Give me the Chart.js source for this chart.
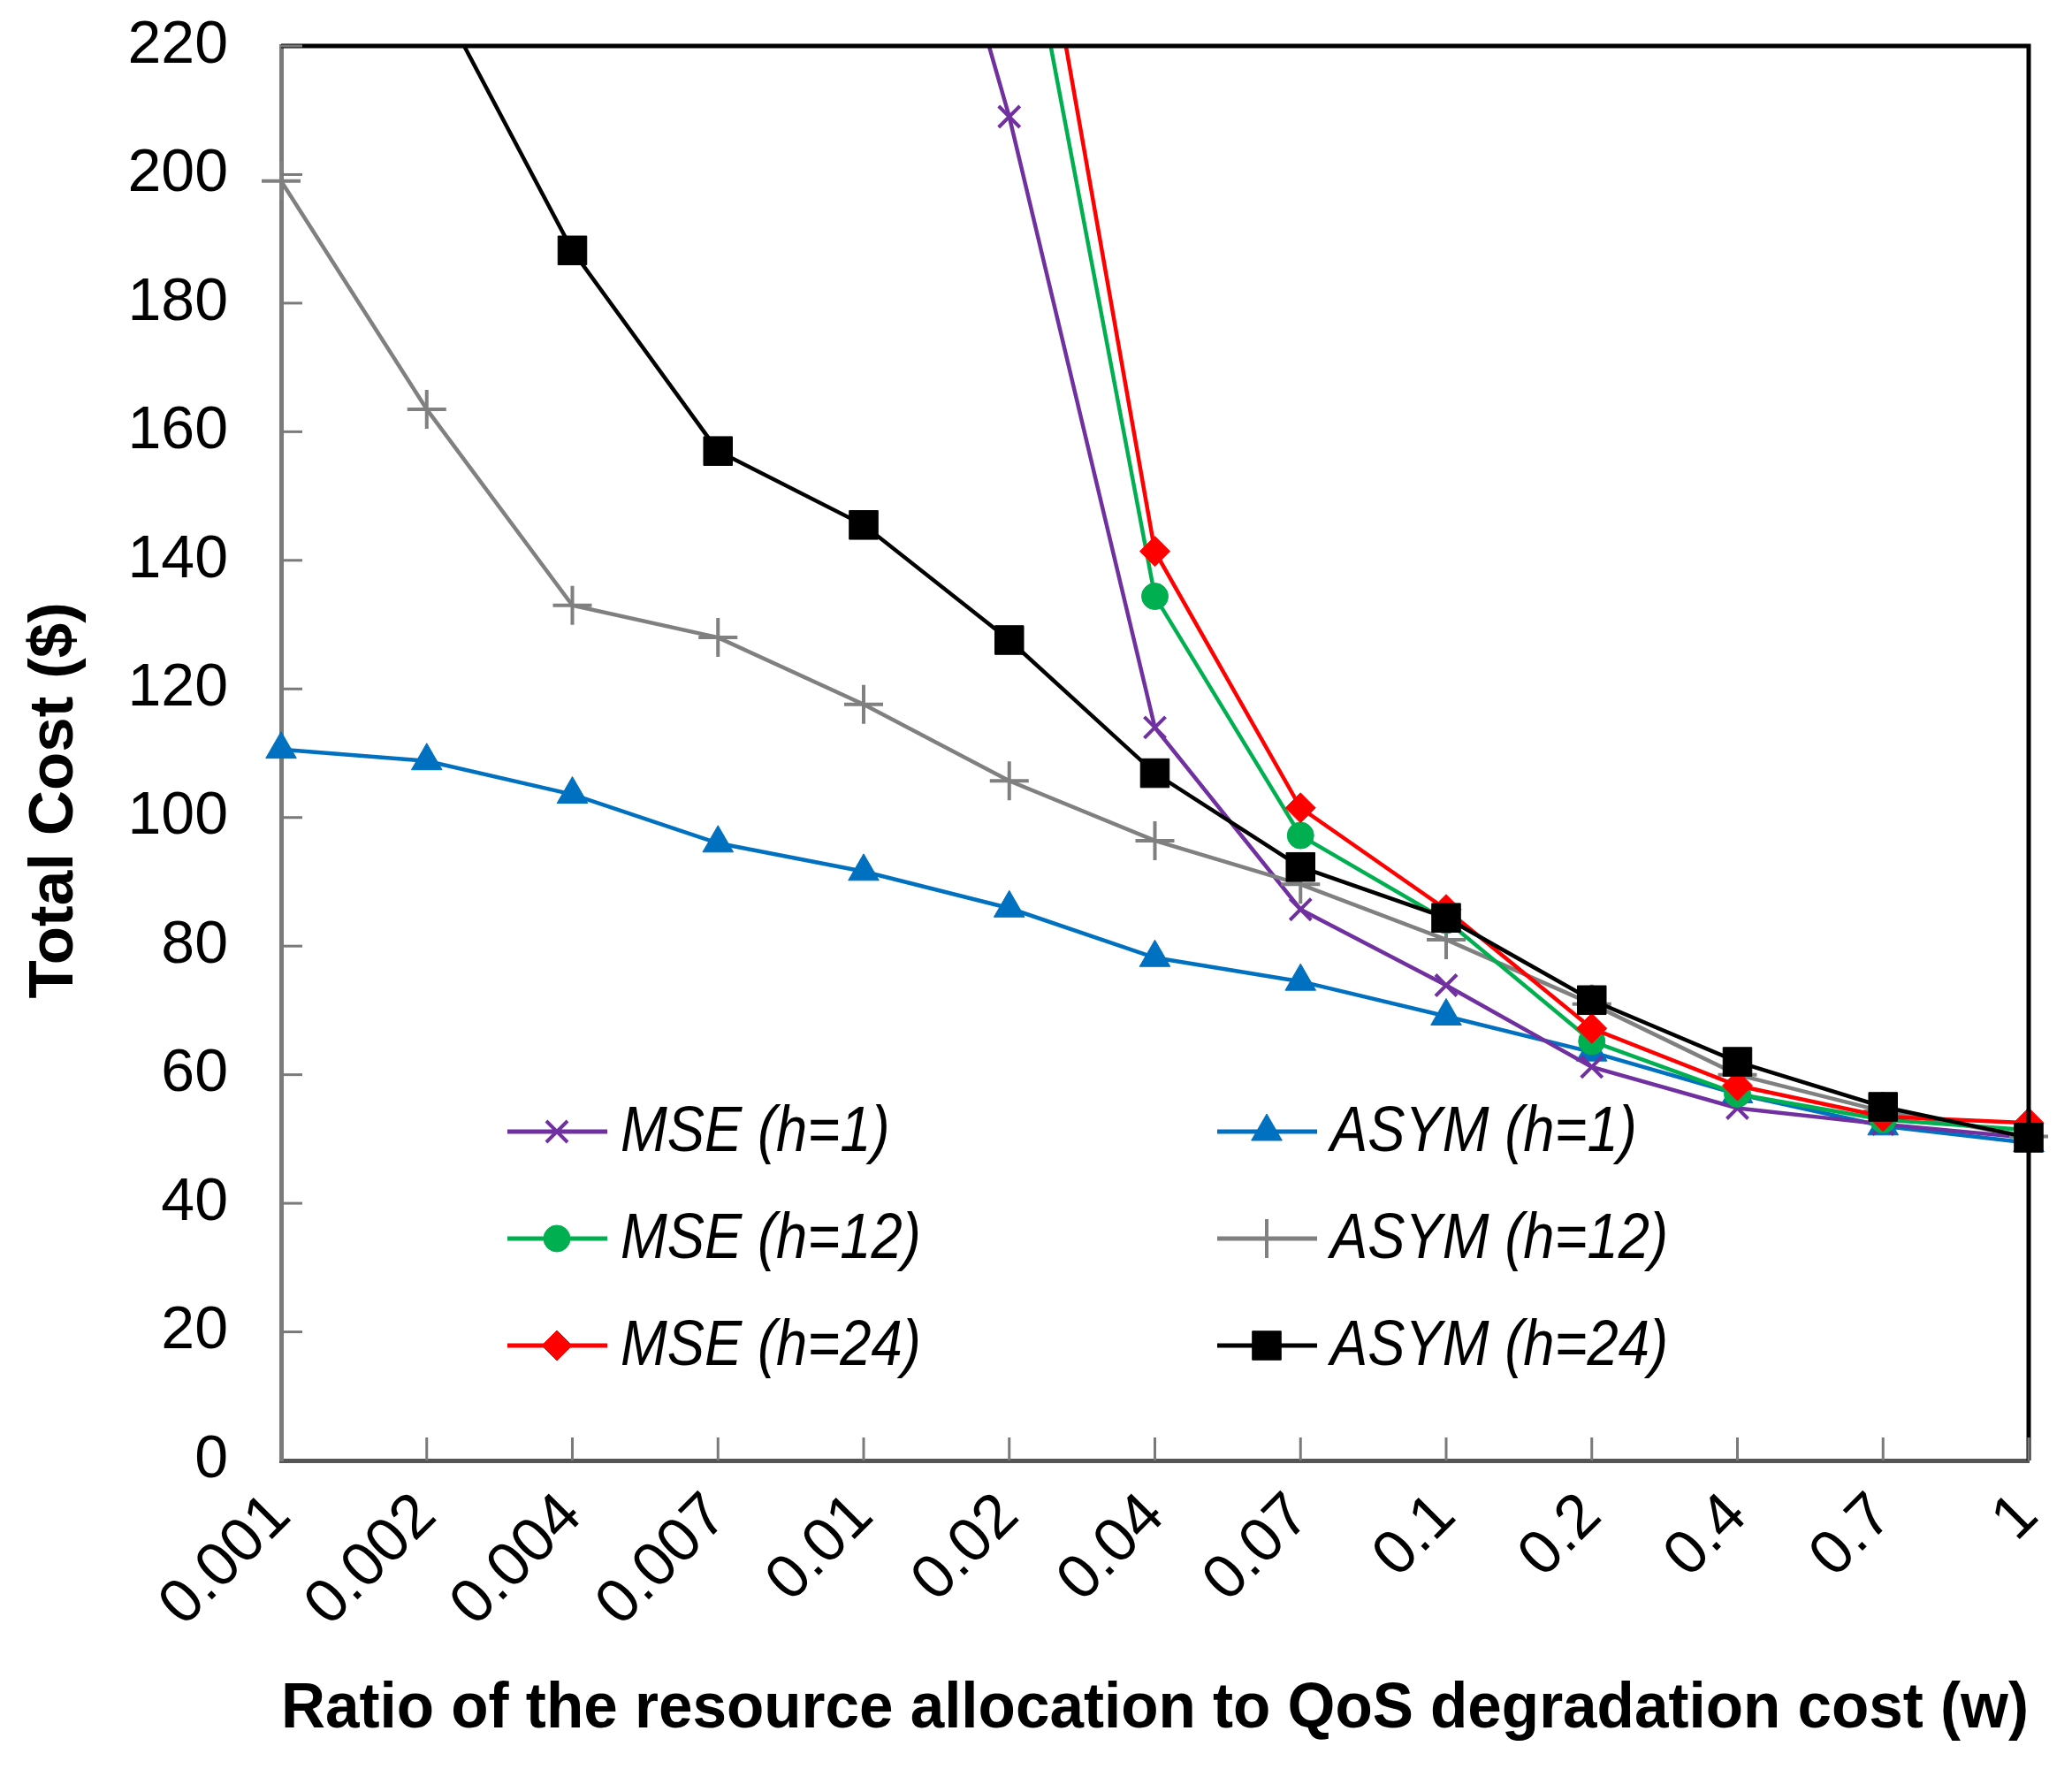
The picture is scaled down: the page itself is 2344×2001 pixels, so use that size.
<!DOCTYPE html>
<html>
<head>
<meta charset="utf-8">
<title>Total cost vs w</title>
<script src="https://cdn.jsdelivr.net/npm/chart.js@4.4.1/dist/chart.umd.min.js"></script>
<style>
  html, body { margin: 0; padding: 0; background: #fff; }
  canvas { display: block; }
</style>
</head>
<body>
<canvas id="costChart" width="2344" height="2001"></canvas>
<script>
// ratio w (x categories)
const wLabels = ['0.001', '0.002', '0.004', '0.007', '0.01', '0.02', '0.04', '0.07', '0.1', '0.2', '0.4', '0.7', '1'];

// total cost ($); null = off the top of the chart, nothing visible
const mseH1 = [null, null, null, null, 288, 209, 114, 85.7, 73.9, 61.2, 54.8, 52.3, 50.2];
const mseH12 = [null, null, null, null, null, 254, 134.4, 97.2, 84, 65.2, 57, 53, 51.4];
const mseH24 = [null, null, null, null, null, 270, 141.4, 101.5, 85.7, 67.2, 58.3, 53.5, 52.5];
const asymH1 = [110.6, 108.8, 103.6, 96, 91.6, 85.9, 78.2, 74.5, 69.1, 63.5, 57, 52, 49.4];
const asymH12 = [199, 163.5, 133, 128, 117.6, 105.7, 96.4, 89.6, 81, 71, 60, 54.3, 50.4];
const asymH24 = [null, 231, 188.2, 157, 145.5, 127.6, 106.9, 92.3, 84.4, 71.6, 62, 55, 50.2];

const FONT = "'Liberation Sans', Arial, Helvetica, sans-serif";

function series(label, data, color, style, radius, order, width) {
    return {
        label,
        data,
        borderColor: color,
        backgroundColor: color,
        borderWidth: 4.5,
        pointStyle: style,
        pointRadius: radius,
        pointBorderWidth: width || 1,
        pointBackgroundColor: color,
        pointBorderColor: color,
        order,
        tension: 0,
        spanGaps: false,
        clip: { left: 40, right: 40, top: 0, bottom: 40 }
    };
}

// black frame on top/right plus inward tick marks
const framePlugin = {
    id: 'frame',
    afterDraw(chart) {
        const { ctx, chartArea: a, scales } = chart;
        ctx.save();
        ctx.strokeStyle = '#000';
        ctx.lineWidth = 5;
        ctx.beginPath();
        ctx.moveTo(a.left, a.top);
        ctx.lineTo(a.right, a.top);
        ctx.lineTo(a.right, a.bottom);
        ctx.stroke();

        ctx.strokeStyle = '#7a7a7a';
        ctx.lineWidth = 3;
        scales.y.ticks.forEach(t => {
            if (t.value === 0) return;
            const py = scales.y.getPixelForValue(t.value);
            ctx.beginPath();
            ctx.moveTo(a.left, py);
            ctx.lineTo(a.left + 24, py);
            ctx.stroke();
        });
        wLabels.forEach((_, i) => {
            const px = scales.x.getPixelForValue(i);
            ctx.beginPath();
            ctx.moveTo(px, a.bottom);
            ctx.lineTo(px, a.bottom - 26);
            ctx.stroke();
        });
        ctx.restore();
    }
};

// two-column legend inside the plot
const legendPlugin = {
    id: 'gridLegend',
    afterDraw(chart) {
        const { ctx, chartArea: a } = chart;
        ctx.save();
        chart.data.datasets.forEach((ds, i) => {
            const col = i < 3 ? 0 : 1;
            const row = i % 3;
            const x0 = a.left + 256 + col * 803;
            const y0 = 1280 + row * 121;
            ctx.strokeStyle = ds.borderColor;
            ctx.fillStyle = ds.borderColor;
            ctx.lineWidth = 5;
            ctx.beginPath();
            ctx.moveTo(x0, y0);
            ctx.lineTo(x0 + 113, y0);
            ctx.stroke();
            ctx.lineWidth = ds.pointBorderWidth;
            Chart.helpers.drawPoint(ctx, {
                pointStyle: ds.pointStyle,
                radius: ds.pointRadius,
                rotation: 0,
                borderWidth: ds.pointBorderWidth
            }, x0 + 56, y0);

            ctx.save();
            ctx.translate(x0 + 128, y0);
            ctx.scale(0.88, 1);
            ctx.fillStyle = '#000';
            ctx.font = 'italic 72px ' + FONT;
            ctx.textBaseline = 'middle';
            ctx.textAlign = 'left';
            ctx.fillText(ds.label, 0, 2);
            ctx.restore();
        });
        ctx.restore();
    }
};

const ctx = document.getElementById('costChart').getContext('2d');
new Chart(ctx, {
    type: 'line',
    data: {
        labels: wLabels,
        datasets: [
            series('MSE (h=1)', mseH1, '#7030A0', 'crossRot', 17, 4, 4),
            series('MSE (h=12)', mseH12, '#00B050', 'circle', 15, 2),
            series('MSE (h=24)', mseH24, '#FF0000', 'rectRot', 17, 1),
            series('ASYM (h=1)', asymH1, '#0070C0', 'triangle', 20, 5),
            series('ASYM (h=12)', asymH12, '#808080', 'cross', 22, 3, 4),
            series('ASYM (h=24)', asymH24, '#000000', 'rect', 23, 0)
        ]
    },
    options: {
        responsive: false,
        devicePixelRatio: 1,
        animation: false,
        layout: { padding: { left: 0, right: 49, top: 52, bottom: 0 } },
        plugins: {
            legend: { display: false },
            tooltip: { enabled: false }
        },
        scales: {
            x: {
                offset: false,
                grid: { display: false, drawTicks: false },
                border: { display: true, color: '#555', width: 5 },
                ticks: {
                    color: '#000',
                    font: { family: FONT, size: 70 },
                    maxRotation: 45,
                    minRotation: 45,
                    padding: 22,
                    autoSkip: false
                },
                title: {
                    display: true,
                    text: 'Ratio of the resource allocation to QoS degradation cost (w)',
                    color: '#000',
                    font: { family: FONT, size: 72, weight: 'bold' },
                    padding: { top: 0, bottom: 24 }
                },
                afterFit(scale) {
                    scale.height = 349;
                    scale.paddingLeft = 0;
                    scale.paddingRight = 0;
                }
            },
            y: {
                min: 0,
                max: 220,
                grid: { display: false, drawTicks: false },
                border: { display: true, color: '#7a7a7a', width: 5 },
                ticks: {
                    stepSize: 20,
                    color: '#000',
                    font: { family: FONT, size: 68 },
                    padding: 60
                },
                title: {
                    display: true,
                    text: 'Total Cost ($)\u2002\u2002\u2002',
                    color: '#000',
                    font: { family: FONT, size: 71, weight: 'bold' },
                    padding: { top: 20, bottom: 0 }
                },
                afterFit(scale) {
                    scale.width = 318;
                    scale.paddingTop = 0;
                    scale.paddingBottom = 0;
                }
            }
        }
    },
    plugins: [framePlugin, legendPlugin]
});
</script>
</body>
</html>
